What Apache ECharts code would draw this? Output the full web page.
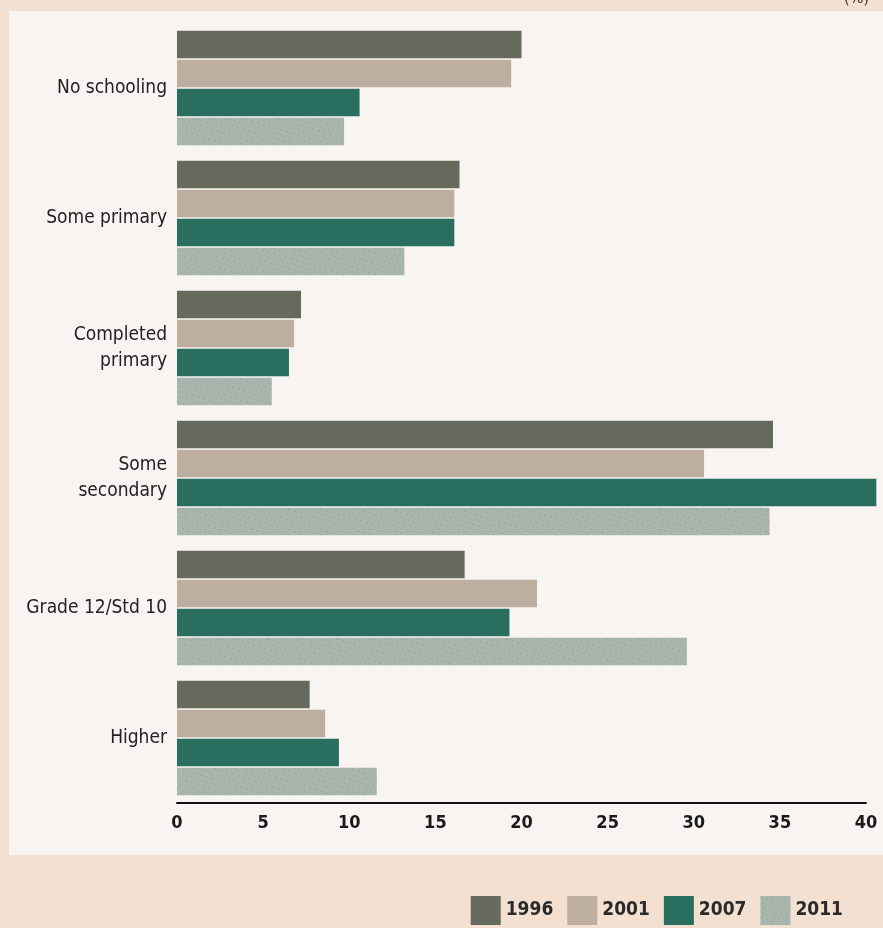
<!DOCTYPE html>
<html>
<head>
<meta charset="utf-8">
<script src="https://cdn.jsdelivr.net/npm/echarts@6/dist/echarts.min.js"></script>
<style>
html,body{margin:0;padding:0;background:#f3e0d0;}
#c{width:883px;height:928px;}
</style>
</head>
<body>
<div id="c"></div>
<script>
var categories = ['No schooling', 'Some primary', 'Completed\nprimary', 'Some\nsecondary', 'Grade 12/Std 10', 'Higher'];
var years = ['1996', '2001', '2007', '2011'];
var s1996 = [20.0, 16.4, 7.2, 34.6, 16.7, 7.7];
var s2001 = [19.4, 16.1, 6.8, 30.6, 20.9, 8.6];
var s2007 = [10.6, 16.1, 6.5, 40.6, 19.3, 9.4];
var s2011 = [9.7, 13.2, 5.5, 34.4, 29.6, 11.6];
var xTicks = [0, 5, 10, 15, 20, 25, 30, 35, 40];

var colors = ['#666a5c', '#bdae9f', '#2a6e60', '#a9b6ae'];
var font = '"Liberation Sans Narrow", "DejaVu Sans Condensed", "Liberation Sans", sans-serif';

var chart = echarts.init(document.getElementById('c'));
var seriesData = [s1996, s2001, s2007, s2011];
var series = years.map(function (y, i) {
  var st = { color: colors[i] };
  if (i === 3) {
    st.decal = { symbol: 'rect', symbolSize: 0.5, color: 'rgba(90,95,80,0.55)', dashArrayX: [[1, 3], [2, 4]], dashArrayY: [2, 3], rotation: 0.3 };
  }
  return {
    name: y,
    type: 'bar',
    data: seriesData[i],
    barGap: '6%',
    barCategoryGap: '12%',
    clip: false,
    itemStyle: st
  };
});

chart.setOption({
  animation: false,
  backgroundColor: '#f3e0d0',
  graphic: [{
    type: 'rect', z: -10, silent: true,
    shape: { x: 9, y: 11, width: 874, height: 844 },
    style: { fill: '#f8f4f2' }
  }, {
    type: 'text', silent: true, right: 14, top: -9,
    style: { text: '(%)', fontFamily: font, fontSize: 16, fill: '#333' }
  }],
  grid: { left: 177, right: 17, top: 23, height: 780 },
  legend: {
    data: years,
    right: 40, bottom: 3, padding: 0,
    itemWidth: 30, itemHeight: 29, itemGap: 14,
    icon: 'rect',
    textStyle: { fontFamily: font, fontWeight: 'bold', fontSize: 19, color: '#2a2a2a' }
  },
  xAxis: {
    type: 'value', min: 0, max: 40, interval: 5,
    axisLine: { show: true, lineStyle: { color: '#111', width: 2 } },
    axisTick: { show: false },
    splitLine: { show: false },
    axisLabel: {
      margin: 11,
      fontFamily: font, fontWeight: 'bold', fontSize: 18, color: '#1a1a1a',
      formatter: function (v) { return xTicks.indexOf(v) >= 0 ? String(v) : ''; }
    }
  },
  yAxis: {
    type: 'category', inverse: true, data: categories,
    axisLine: { show: false }, axisTick: { show: false },
    axisLabel: {
      margin: 10, align: 'right',
      fontFamily: font, fontSize: 19, color: '#222', lineHeight: 26
    }
  },
  series: series
});
</script>
</body>
</html>
